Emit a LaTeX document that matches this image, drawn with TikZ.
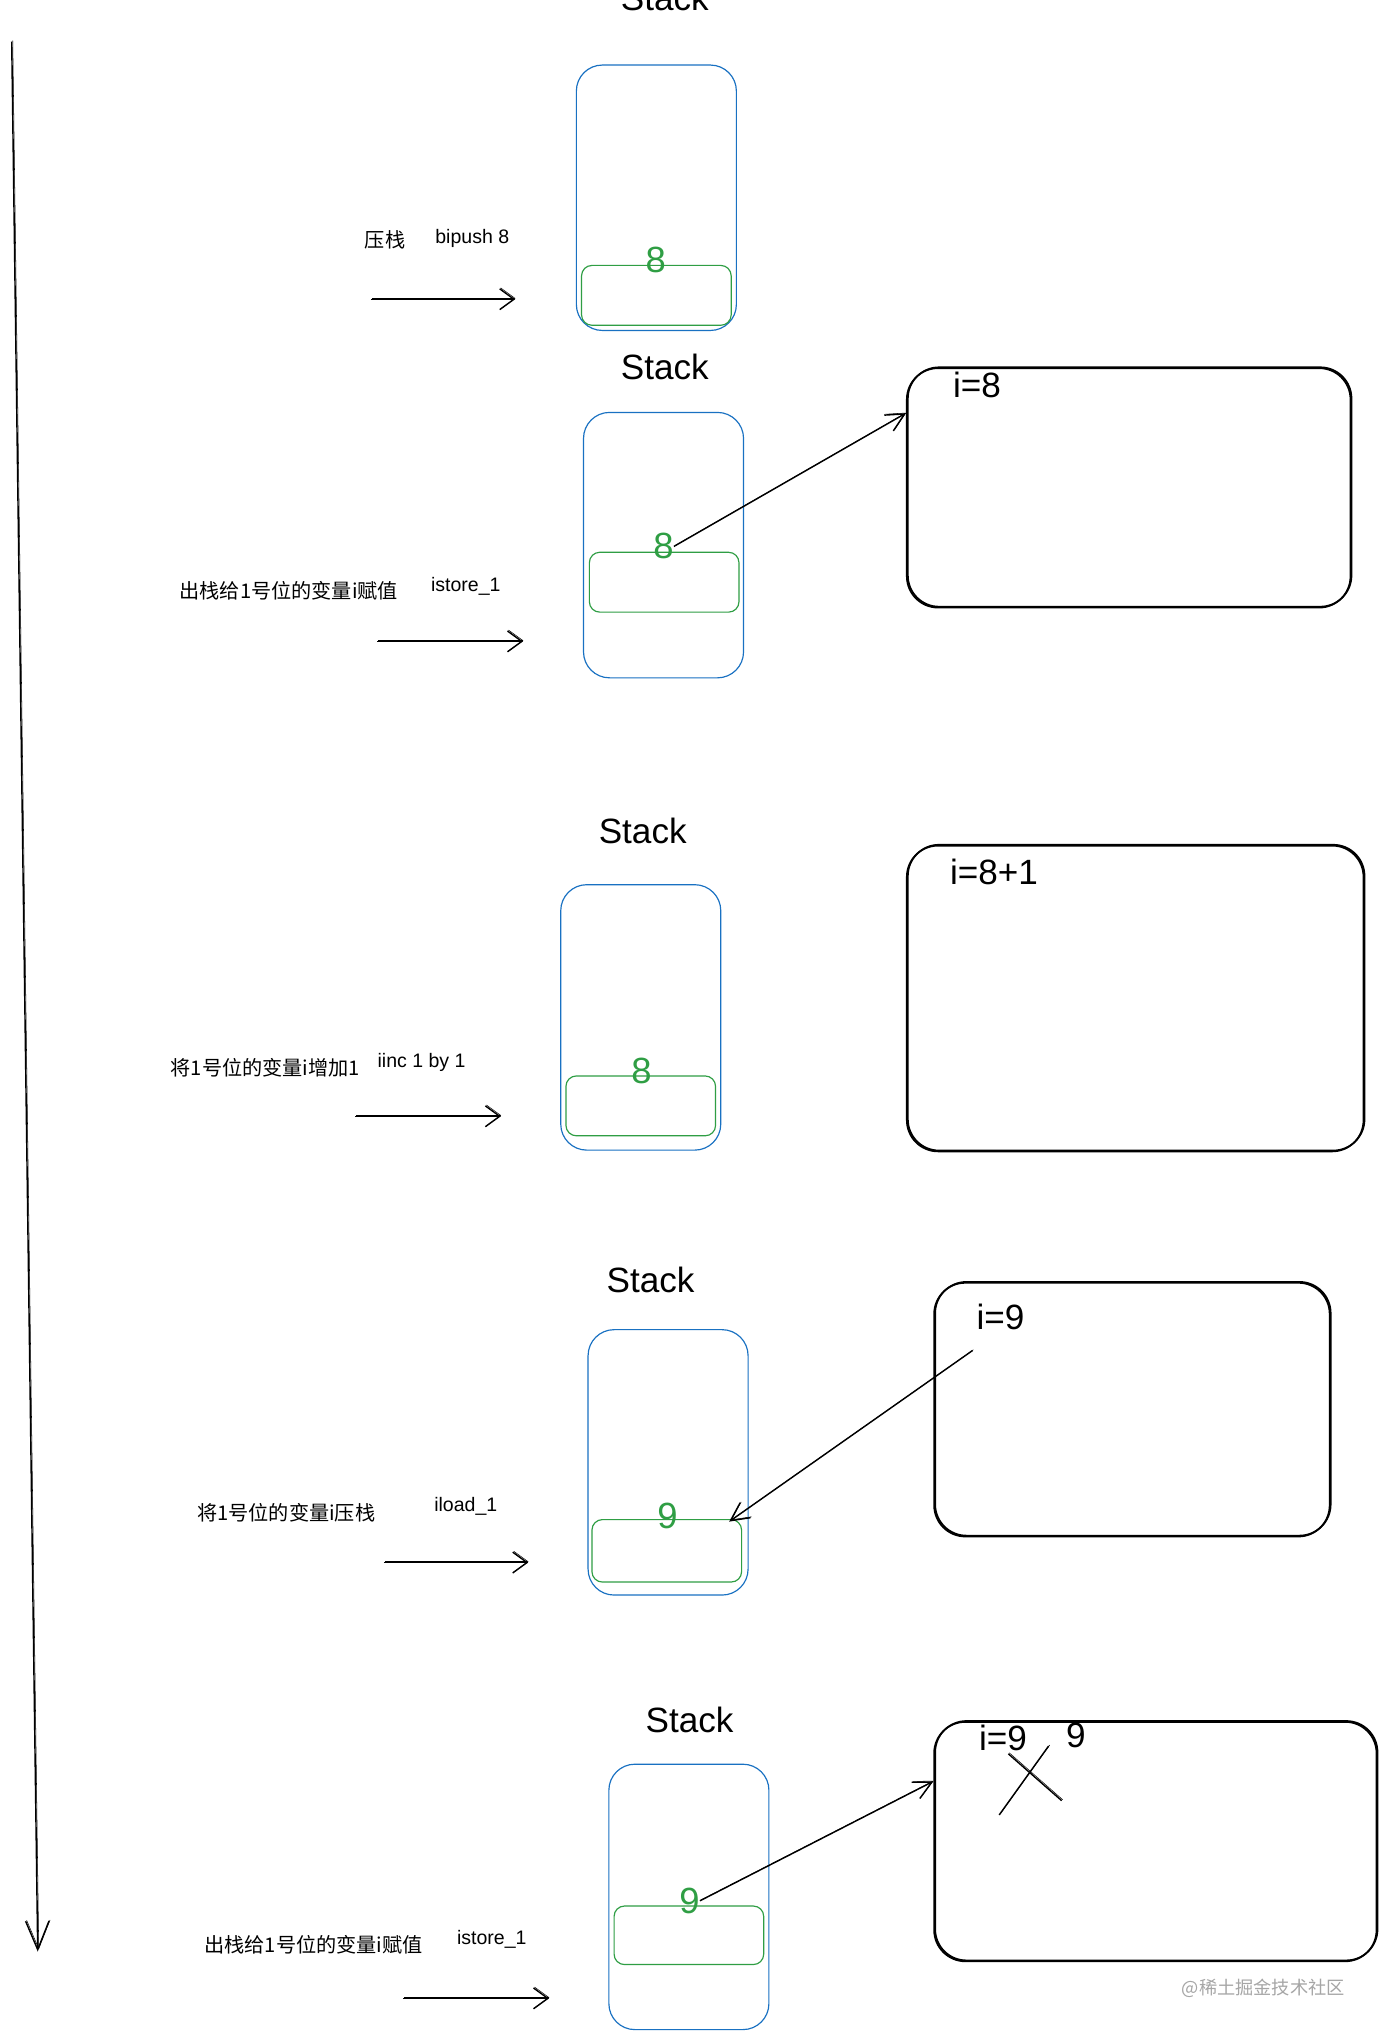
\documentclass[tikz,border=0pt]{standalone}
\usepackage{fontspec}
\setmainfont{Liberation Sans}
\newfontfamily\cjk{Noto Sans CJK SC}
\usetikzlibrary{arrows.meta,calc}
\definecolor{exblue}{HTML}{1971C2}
\definecolor{exgreen}{HTML}{2F9E44}
\definecolor{wmgray}{HTML}{A6A6A6}
\tikzset{
 sk/.style={preaction={draw,transform canvas={xshift=0.8pt,yshift=0.7pt}}},
 stackbox/.style={draw=exblue, line width=0.9pt, rounded corners=20pt, minimum width=123pt, minimum height=204pt, inner sep=0pt},
 slot/.style={draw=exgreen, line width=0.9pt, rounded corners=8pt, minimum width=115pt, minimum height=46pt, inner sep=0pt},
 varbox/.style={draw=black, line width=1.3pt, rounded corners=24pt, inner sep=0pt, sk},
 title/.style={font=\fontsize{27}{30}\selectfont, inner sep=0pt},
 val/.style={text=exgreen, font=\fontsize{28}{30}\selectfont, inner sep=0pt},
 vartext/.style={font=\fontsize{27}{30}\selectfont, inner sep=0pt},
 op/.style={font=\fontsize{15}{18}\selectfont, inner sep=0pt},
 cn/.style={font=\cjk\fontsize{15.5}{18}\selectfont, inner sep=0pt},
 flow/.style={line width=1.1pt, -{Straight Barb[length=11pt,width=16pt]}, sk},
 ptr/.style={line width=1.1pt, -{Straight Barb[length=14pt,width=14pt]}, sk},
 cross/.style={line width=1.1pt, sk},
}
\begin{document}
\begin{tikzpicture}[x=1pt,y=-1pt]
\useasboundingbox (0,0) rectangle (1065,1568);
\fill[white] (0,0) rectangle (1065,1568);

% timeline
\coordinate (t0) at (9,32);
\coordinate (t1) at (29,1500);
\draw[line width=1.1pt, -{Straight Barb[length=22pt,width=18pt]}, sk] (t0) -- (t1);

% block 1
\node[title, anchor=base] (st1) at (511,8) {Stack};
\node[stackbox] (s1) at (504.5,152) {};
\node[slot] (g1) at (504.5,227) {};
\node[val] (n1) at (504,200) {8};
\node[cn] (c1) at (296,184) {压栈};
\node[op] (o1) at (363,183) {bipush 8};
\coordinate (a1s) at (285,230);
\coordinate (a1e) at (396,230);
\draw[flow] (a1s) -- (a1e);

% block 2
\node[title] (st2) at (511,282) {Stack};
\node[stackbox] (s2) at (510,419) {};
\node[slot] (g2) at (510.5,447.5) {};
\node[val] (n2) at (510,420) {8};
\node[cn] (c2) at (222,454) {出栈给1号位的变量i赋值};
\node[op] (o2) at (358,451) {istore\_1};
\coordinate (a2s) at (290,493);
\coordinate (a2e) at (402,493);
\draw[flow] (a2s) -- (a2e);
\node[varbox, minimum width=341pt, minimum height=184pt] (v2) at (867.5,375) {};
\node[vartext] (i2) at (751,296) {i=8};
\draw[ptr] (n2.east) -- ($(v2.north west)!0.19!(v2.south west)$);

% block 3
\node[title] (st3) at (494,639) {Stack};
\node[stackbox] (s3) at (492.5,782) {};
\node[slot] (g3) at (492.5,850) {};
\node[val] (n3) at (493,823) {8};
\node[cn] (c3) at (204,821) {将1号位的变量i增加1};
\node[op] (o3) at (324,817) {iinc 1 by 1};
\coordinate (a3s) at (273,858);
\coordinate (a3e) at (385,858);
\draw[flow] (a3s) -- (a3e);
\node[varbox, minimum width=351pt, minimum height=235pt] (v3) at (872.5,767.5) {};
\node[vartext, anchor=west] (i3) at (730,670) {i=8+1};

% block 4
\node[title] (st4) at (500,984) {Stack};
\node[stackbox] (s4) at (513.5,1124) {};
\node[slot, minimum height=48pt] (g4) at (512.5,1192) {};
\node[val] (n4) at (513,1165) {9};
\node[cn] (c4) at (220,1163) {将1号位的变量i压栈};
\node[op] (o4) at (358,1158) {iload\_1};
\coordinate (a4s) at (295,1201);
\coordinate (a4e) at (406,1201);
\draw[flow] (a4s) -- (a4e);
\node[varbox, minimum width=304pt, minimum height=195pt] (v4) at (870,1083.5) {};
\node[vartext] (i4) at (769,1012) {i=9};
\draw[ptr] ($(i4.south west)+(-3,16)$) -- ($(g4.north east)+(-10,2)$);

% block 5
\node[title] (st5) at (530,1322) {Stack};
\node[stackbox] (s5) at (529.5,1458) {};
\node[slot, minimum height=45pt] (g5) at (529.5,1487.5) {};
\node[val] (n5) at (530,1461) {9};
\node[cn] (c5) at (241,1495) {出栈给1号位的变量i赋值};
\node[op] (o5) at (378,1491) {istore\_1};
\coordinate (a5s) at (310,1536);
\coordinate (a5e) at (422,1536);
\draw[flow] (a5s) -- (a5e);
\node[varbox, minimum width=340pt, minimum height=184pt] (v5) at (888,1415.5) {};
\node[vartext] (i5) at (771,1336) {i=9};
\node[vartext] (j5) at (827,1334) {9};
\coordinate (x1) at (768,1395);
\coordinate (x2) at (806,1342);
\coordinate (x3) at (775,1348);
\coordinate (x4) at (816,1384);
\draw[cross] (x1) -- (x2);
\draw[cross] (x3) -- (x4);
\draw[ptr] (n5.east) -- ($(v5.north west)!0.25!(v5.south west)$);

% watermark
\node[cn, text=wmgray, font=\cjk\fontsize{14}{16}\selectfont] (wm) at (971,1528) {@稀土掘金技术社区};
\end{tikzpicture}
\end{document}
